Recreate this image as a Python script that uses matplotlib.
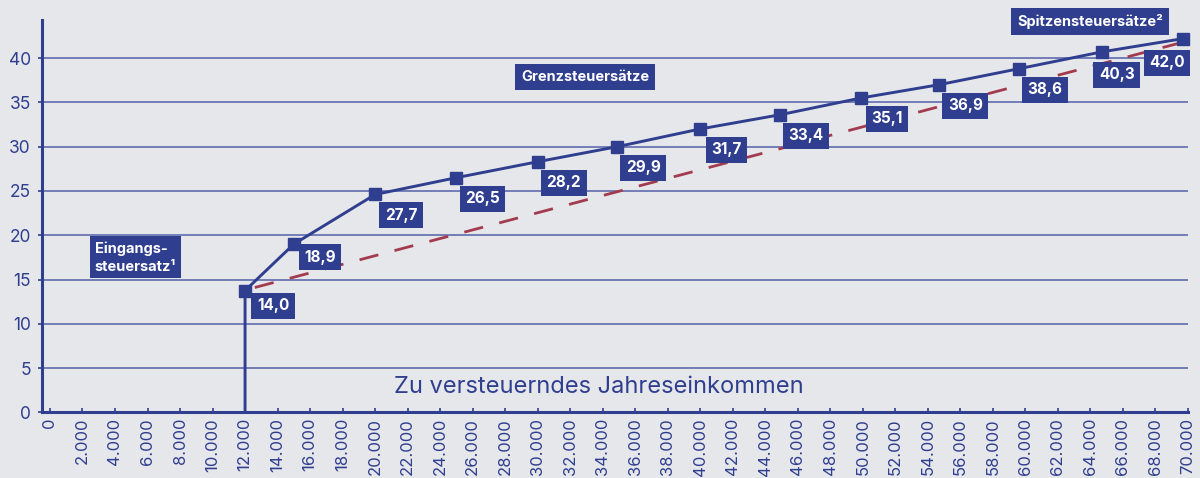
import matplotlib.pyplot as plt

# Daten: Grenzsteuersätze nach zu versteuerndem Jahreseinkommen
income = [12000, 15000, 20000, 25000, 30000, 34900, 40000, 44900, 49900, 54700, 59600, 64700, 69700]
rate = [13.75, 19.0, 24.6, 26.5, 28.3, 30.0, 32.0, 33.6, 35.5, 37.0, 38.8, 40.7, 42.2]
rate_labels = ["14,0", "18,9", "27,7", "26,5", "28,2", "29,9", "31,7", "33,4", "35,1", "36,9", "38,6", "40,3", "42,0"]

# gestrichelte Vergleichslinie (linear)
linear_x = [12600, 69700]
linear_y = [14.1, 41.8]

x_ticks = list(range(0, 70001, 2000))
y_ticks = list(range(0, 41, 5))

bg = "#e6e7ea"
blue = "#2f3e8f"
grid_blue = "#4353a3"
red = "#a33b4f"

plt.rcParams['font.family'] = ['Inter', 'DejaVu Sans']

fig = plt.figure(figsize=(12, 4.78), dpi=100, facecolor=bg)
ax = fig.add_axes([42 / 1200, 1 - 412.4 / 478, 1146 / 1200, 392.4 / 478])
ax.set_facecolor(bg)

ax.set_xlim(-490, 70000)
ax.set_ylim(0, 44.3)

# Gitterlinien
ax.set_yticks(y_ticks)
ax.yaxis.grid(True, color=grid_blue, lw=1.1, alpha=0.9)
ax.set_axisbelow(True)

for s in ['top', 'right']:
    ax.spines[s].set_visible(False)
for s in ['left', 'bottom']:
    ax.spines[s].set_color(blue)
    ax.spines[s].set_linewidth(2.2)

ax.set_xticks(x_ticks)
ax.set_xticklabels([f"{v:,}".replace(",", ".") for v in x_ticks], rotation=90, va='top')
ax.tick_params(axis='x', direction='in', length=3, width=1.2, colors=blue, labelsize=12, pad=4)
ax.tick_params(axis='y', direction='out', length=3, width=1.2, colors=blue, labelsize=12.5, pad=5)

# Linie mit senkrechtem Einstieg bei 12.000
xs = [income[0]] + income
ys = [0] + rate
ax.plot(xs, ys, color=blue, lw=2.1, marker='s', markersize=8.5,
        markevery=list(range(1, len(xs))), zorder=4, clip_on=False)
ax.plot(linear_x, linear_y, color=red, lw=2, dashes=(7, 6), zorder=3)

box = dict(boxstyle='square,pad=0.42', fc=blue, ec='none')

# Beschriftungen der Punkte (Versatz in Pixeln: rechts, unten)
offsets = {0: (28, 15), 1: (26, 13), 11: (15, 23), 12: (-16, 24)}
for i, (x, y, t) in enumerate(zip(income, rate, rate_labels)):
    dx, dy = offsets.get(i, (26, 21))
    ax.annotate(t, xy=(x, y), xytext=(dx * 0.72, -dy * 0.72), textcoords='offset points',
                ha='center', va='center', color='white', fontweight='bold', fontsize=11,
                bbox=dict(boxstyle='square,pad=0.36', fc=blue, ec='none'),
                zorder=6, annotation_clip=False)

ax.text(0.474, 0.855, "Grenzsteuersätze", transform=ax.transAxes, ha='center', va='center',
        color='white', fontweight='bold', fontsize=10.5, bbox=box, zorder=6)
ax.text(0.9145, 0.997, "Spitzensteuersätze²", transform=ax.transAxes, ha='center', va='center',
        color='white', fontweight='bold', fontsize=10.5, bbox=box, zorder=6, clip_on=False)
ax.text(0.0816, 0.395, "Eingangs-\nsteuersatz¹", transform=ax.transAxes, ha='center', va='center',
        multialignment='left', linespacing=1.35,
        color='white', fontweight='bold', fontsize=10.5,
        bbox=dict(boxstyle='square,pad=0.33', fc=blue, ec='none'), zorder=6)

ax.text(0.486, 0.065, "Zu versteuerndes Jahreseinkommen", transform=ax.transAxes,
        ha='center', va='center', color=blue, fontsize=17)

fig.savefig("out.png", dpi=100, facecolor=bg)
